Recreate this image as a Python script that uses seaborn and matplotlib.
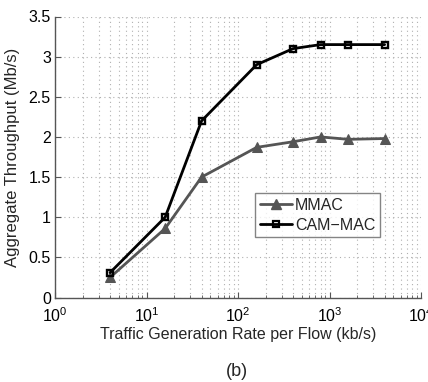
import numpy as np
import pandas as pd
import matplotlib
matplotlib.use("Agg")
import matplotlib.pyplot as plt
import matplotlib.ticker as mticker
from matplotlib.lines import Line2D
import seaborn as sns

# Offered load per flow (kb/s) and measured aggregate throughput (Mb/s)
rates = [4, 16, 40, 160, 400, 800, 1600, 4000]
mmac = [0.25, 0.86, 1.50, 1.87, 1.94, 2.00, 1.97, 1.98]
cam_mac = [0.31, 1.00, 2.20, 2.90, 3.10, 3.15, 3.15, 3.15]
series_names = ["MMAC", "CAM\u2212MAC"]
yticks = [0, 0.5, 1, 1.5, 2, 2.5, 3, 3.5]
ytick_labels = ["0", "0.5", "1", "1.5", "2", "2.5", "3", "3.5"]

df = pd.DataFrame({
    "rate": rates * 2,
    "throughput": mmac + cam_mac,
    "protocol": [series_names[0]] * len(rates) + [series_names[1]] * len(rates),
})

sns.set_theme(style="white")
plt.rcParams["font.family"] = ["Liberation Sans", "DejaVu Sans"]

fig = plt.figure(figsize=(4.28, 3.82), dpi=100)
ax = fig.add_axes([55 / 428, 1 - 297.5 / 382, (421 - 55) / 428, (297.5 - 16.5) / 382])

palette = {series_names[0]: "#555555", series_names[1]: "#000000"}
markers = {series_names[0]: "^", series_names[1]: "s"}

sns.lineplot(data=df, x="rate", y="throughput", hue="protocol", style="protocol",
             palette=palette, markers=markers, dashes=False, linewidth=2.0,
             ax=ax, legend=False)

# Marker styling: filled triangles, open squares
lines = ax.get_lines()
lines[0].set_markersize(7.5)
lines[0].set_markerfacecolor("#555555")
lines[0].set_markeredgecolor("#555555")
lines[1].set_markersize(5)
lines[1].set_markerfacecolor("none")
lines[1].set_markeredgecolor("#000000")
lines[1].set_markeredgewidth(1.7)

ax.set_xscale("log")
ax.set_xlim(1, 1e4)
ax.set_ylim(0, 3.5)
ax.set_yticks(yticks)
ax.set_yticklabels(ytick_labels)
ax.xaxis.set_major_locator(mticker.LogLocator(base=10, numticks=10))
ax.xaxis.set_minor_locator(mticker.LogLocator(base=10, subs=np.arange(2, 10), numticks=20))
ax.xaxis.set_major_formatter(mticker.LogFormatterMathtext())

grid_kw = dict(color="#b0b0b0", linestyle=(0, (1, 3)), linewidth=0.8)
ax.grid(True, which="major", axis="both", **grid_kw)
ax.grid(True, which="minor", axis="x", **grid_kw)

for side in ["top", "right"]:
    ax.spines[side].set_visible(False)
for side in ["left", "bottom"]:
    ax.spines[side].set_color("#555555")
    ax.spines[side].set_linewidth(1.0)

ax.tick_params(axis="both", which="major", direction="in", length=4, width=0.8,
               color="#555555", labelsize=11.5, labelcolor="#000000", pad=3,
               bottom=True, left=True)
ax.tick_params(axis="x", which="major", pad=6)
ax.tick_params(axis="x", which="minor", direction="in", length=2, width=0.6,
               color="#555555", bottom=True)

ax.set_xlabel("Traffic Generation Rate per Flow (kb/s)", fontsize=11.5, labelpad=2)
ax.set_ylabel("Aggregate Throughput (Mb/s)", fontsize=12, labelpad=6)

handles = [
    Line2D([], [], color="#555555", lw=2, marker="^", markersize=7,
           markerfacecolor="#555555", markeredgecolor="#555555"),
    Line2D([], [], color="#000000", lw=2, marker="s", markersize=4.5,
           markerfacecolor="none", markeredgecolor="#000000", markeredgewidth=1.6),
]
leg = ax.legend(handles, series_names, loc="upper left",
                bbox_to_anchor=((255 - 55) / 366, (297.5 - 193) / 281),
                fontsize=11.5, frameon=True, fancybox=False, handlelength=2.0,
                handletextpad=0.2, borderpad=0.3, labelspacing=0.3, borderaxespad=0)
leg.get_frame().set_edgecolor("#666666")
leg.get_frame().set_linewidth(1.0)
leg.get_frame().set_facecolor("white")

fig.text(237 / 428, 1 - 372 / 382, "(b)", ha="center", va="center", fontsize=13)

fig.savefig("out.png", dpi=100, facecolor="white")
